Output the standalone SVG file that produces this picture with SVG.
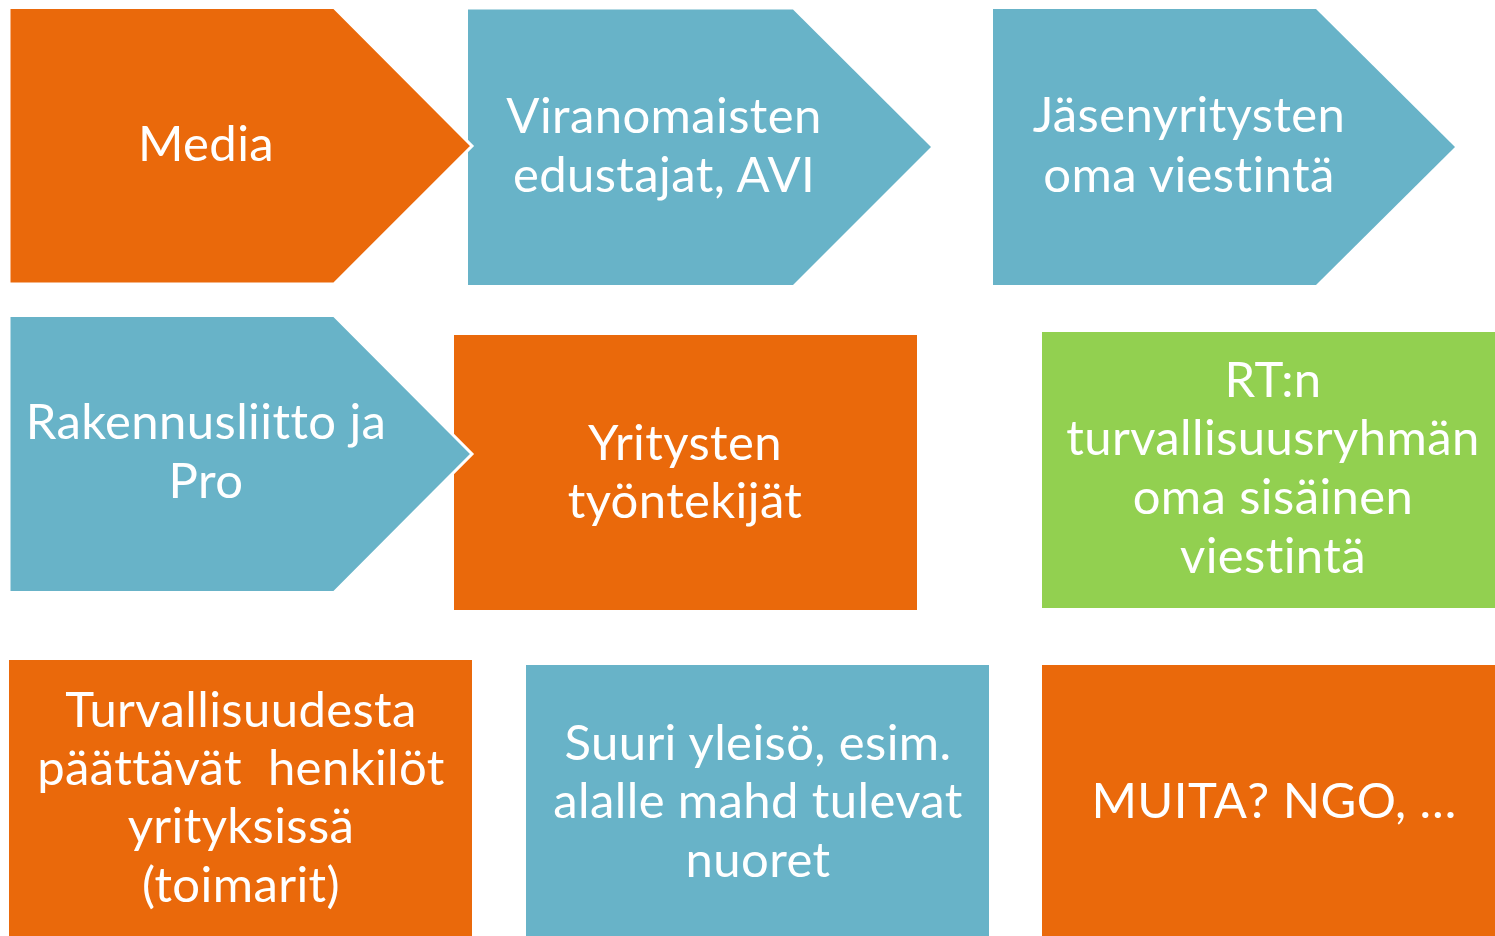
<svg xmlns="http://www.w3.org/2000/svg" width="1495" height="936" viewBox="0 0 1495 936">
<style>
.o{fill:#EA690B;}
.b{fill:#68B3C8;}
.g{fill:#92D050;}
.s{stroke:#FFFFFF;stroke-width:3;stroke-linejoin:miter;}
text{font-family:Lato,"Open Sans","Liberation Sans",sans-serif;font-size:49px;letter-spacing:0.4px;fill:#FFFFFF;text-anchor:middle;white-space:pre;}
</style>
<rect width="1495" height="936" fill="#FFFFFF"/>
<g id="viranomaiset">
<path class="b" d="M468,9.5 H793 L931,147 L793,285 H468 Z"/>
<text x="664" y="133">Viranomaisten</text>
<text x="664" y="192">edustajat, AVI</text>
</g>
<g id="media">
<path class="o s" d="M9,7.5 H334 L472,146 L334,284 H9 Z"/>
<text x="206" y="161">Media</text>
</g>
<g id="jasenyritykset">
<path class="b" d="M993,9 H1316 L1455,147 L1316,285 H993 Z"/>
<text x="1189" y="132">Jäsenyritysten</text>
<text x="1189" y="192">oma viestintä</text>
</g>
<g id="tyontekijat">
<rect class="o" x="454" y="335" width="463" height="275"/>
<text x="685" y="460">Yritysten</text>
<text x="685" y="518">työntekijät</text>
</g>
<g id="rakennusliitto">
<path class="b s" d="M9,315.5 H334 L472,454 L334,592.5 H9 Z"/>
<text x="206" y="439">Rakennusliitto ja</text>
<text x="206" y="498">Pro</text>
</g>
<g id="rt">
<rect class="g" x="1042" y="332" width="453" height="276"/>
<text x="1273" y="397">RT:n</text>
<text x="1273" y="455">turvallisuusryhmän</text>
<text x="1273" y="514">oma sisäinen</text>
<text x="1273" y="573">viestintä</text>
</g>
<g id="toimarit">
<rect class="o" x="9" y="660" width="463" height="276"/>
<text x="241" y="727">Turvallisuudesta</text>
<text x="241" y="785">päättävät  henkilöt</text>
<text x="241" y="843">yrityksissä</text>
<text x="241" y="902">(toimarit)</text>
</g>
<g id="yleiso">
<rect class="b" x="526" y="665" width="463" height="271"/>
<text x="758" y="760">Suuri yleisö, esim.</text>
<text x="758" y="818">alalle mahd tulevat</text>
<text x="758" y="877">nuoret</text>
</g>
<g id="muita">
<rect class="o" x="1042" y="665" width="453" height="271"/>
<text x="1274" y="818">MUITA? NGO, …</text>
</g>
<g id="connectors"></g>
</svg>
